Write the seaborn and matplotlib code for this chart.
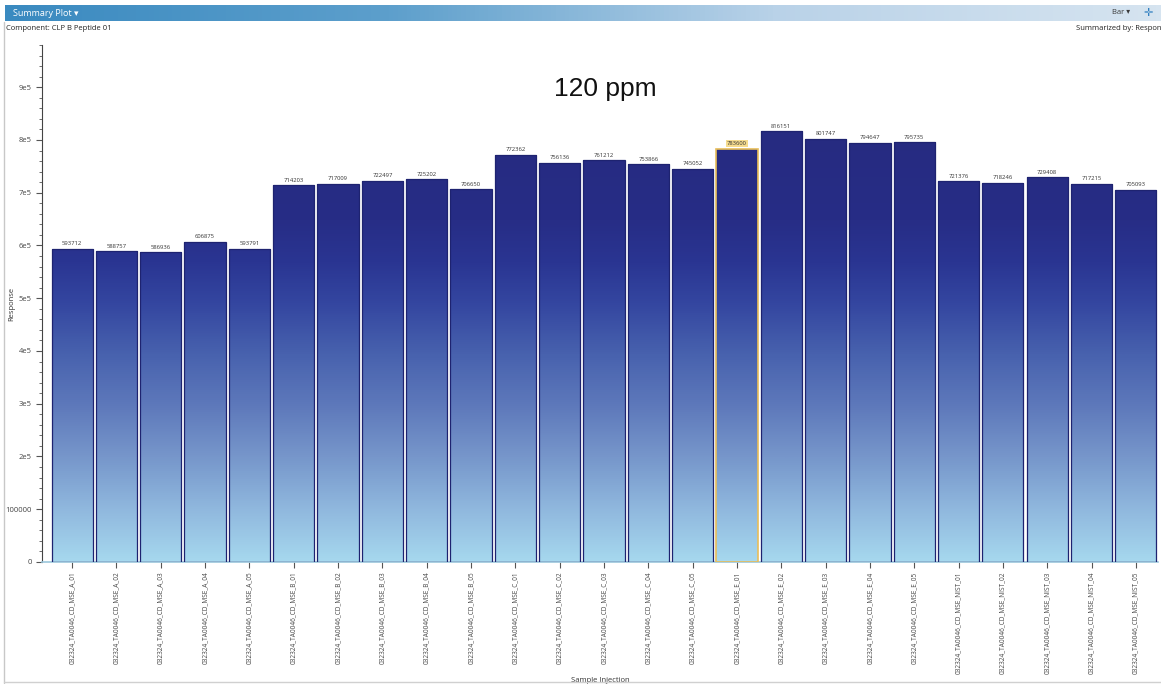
import numpy as np
import pandas as pd
import matplotlib
matplotlib.use("Agg")
from matplotlib import pyplot as plt
from matplotlib.colors import LinearSegmentedColormap
from matplotlib.ticker import MultipleLocator
import seaborn as sns

# data
groups = ["A", "B", "C", "E", "NIST"]
samples = ["032324_TA0046_CD_MSE_%s_%02d" % (g, i) for g in groups for i in range(1, 6)]
responses = [593712, 588757, 586936, 606875, 593791,
             714203, 717009, 722497, 725202, 706650,
             772362, 756136, 761212, 753866, 745052,
             783600, 816151, 801747, 794647, 795735,
             721376, 718246, 729408, 717215, 705093]
y_ticks = [0, 100000, 200000, 300000, 400000, 500000, 600000, 700000, 800000, 900000]
y_tick_labels = ["0", "100000", "2e5", "3e5", "4e5", "5e5", "6e5", "7e5", "8e5", "9e5"]
highlight = 15

df = pd.DataFrame({"sample": samples, "response": responses})

sns.set_style("white")
plt.rcParams["font.family"] = ["Open Sans", "DejaVu Sans"]

fig = plt.figure(figsize=(11.61, 6.84), dpi=100)

# window header strip
hdr = fig.add_axes([5 / 1161, 1 - 21 / 684, 1 - 5 / 1161, 16 / 684])
hdr_cmap = LinearSegmentedColormap.from_list("hdr", ["#3a8ac0", "#5d9fcc", "#b9d2e8", "#d6e4f0"])
hdr.imshow(np.linspace(0, 1, 256)[None, :], aspect="auto", cmap=hdr_cmap, extent=[0, 1, 0, 1])
hdr.set_xlim(0, 1)
hdr.set_ylim(0, 1)
hdr.axis("off")
hdr.text(0.007, 0.5, "Summary Plot \u25be", color="white", fontsize=6.5, va="center", ha="left")
hdr.text(0.958, 0.5, "Bar \u25be", color="#3a3a3a", fontsize=5.5, va="center", ha="left")
hdr.text(0.985, 0.5, "\u271b", color="#2f7fc0", fontsize=8, va="center", ha="left")

fig.text(6 / 1161, 1 - 29 / 684, "Component: CLP B Peptide 01", fontsize=5.5, color="#222222", va="center")
fig.text(1.0, 1 - 29 / 684, "Summarized by: Respon", fontsize=5.5, color="#222222", va="center", ha="right")

# panel border
fig.add_artist(plt.Line2D([4 / 1161, 4 / 1161], [0.002, 1 - 22 / 684], color="#c8c8c8", lw=1))
fig.add_artist(plt.Line2D([4 / 1161, 1], [0.003, 0.003], color="#d0d0d0", lw=1))

ax = fig.add_axes([42 / 1161, 1 - 562 / 684, 1116 / 1161, 517 / 684])
sns.barplot(data=df, x="sample", y="response", ax=ax, width=0.93,
            color="#262a80", edgecolor="#1e2370", linewidth=0.9, errorbar=None)

ytop = 980000
bar_cmap = LinearSegmentedColormap.from_list(
    "bar", [(0.0, "#a6d8ee"), (0.1, "#90b8de"), (0.2, "#7797cb"), (0.3, "#5e79bb"),
            (0.4, "#4862ae"), (0.5, "#3446a0"), (0.58, "#2a3592"), (0.66, "#272d86"),
            (1.0, "#26297c")])
grad = np.linspace(0, 1, 512)[:, None]
for i, p in enumerate(ax.patches):
    x0 = p.get_x()
    w = p.get_width()
    h = p.get_height()
    p.set_facecolor("none")
    p.set_zorder(3)
    if i == highlight:
        p.set_edgecolor("#e8be5a")
        p.set_linewidth(1.2)
    im = ax.imshow(grad, extent=[x0, x0 + w, 0, ytop], origin="lower", aspect="auto",
                   cmap=bar_cmap, vmin=0, vmax=1, zorder=2)
    im.set_clip_path(p)
    kw = dict(ha="center", va="bottom", fontsize=4.2, color="#333333", zorder=4)
    if i == highlight:
        kw["bbox"] = dict(boxstyle="square,pad=0.25", fc="#f6dc8e", ec="none")
    ax.text(x0 + w / 2, h + 5000, str(responses[i]), **kw)

ax.set_xlim(-0.5 - 0.18, len(samples) - 0.5)
ax.set_ylim(0, ytop)
ax.set_yticks(y_ticks)
ax.set_yticklabels(y_tick_labels)
ax.yaxis.set_minor_locator(MultipleLocator(20000))
ax.tick_params(axis="y", which="major", length=4, width=0.8, color="#555555",
               labelsize=5.5, labelcolor="#444444", left=True)
ax.tick_params(axis="y", which="minor", length=2, width=0.6, color="#555555", left=True)
ax.tick_params(axis="x", length=4, width=0.8, color="#555555", labelsize=4.7,
               labelcolor="#444444", bottom=True, rotation=90, pad=3)
ax.set_xlabel("Sample Injection", fontsize=5.5, color="#333333", labelpad=2)
ax.set_ylabel("Response", fontsize=5.5, color="#333333")
ax.yaxis.set_label_coords(-27 / 1116, 0.5)
for s in ["top", "right"]:
    ax.spines[s].set_visible(False)
ax.spines["left"].set_color("#444444")
ax.spines["left"].set_linewidth(0.8)
ax.spines["bottom"].set_color("#9cc7dc")
ax.spines["bottom"].set_linewidth(1.2)

ax.text(0.505, 0.915, "120 ppm", transform=ax.transAxes, ha="center", va="center",
        fontsize=19, color="#111111", family=["Liberation Sans", "DejaVu Sans"])

fig.savefig("out.png", dpi=100)
